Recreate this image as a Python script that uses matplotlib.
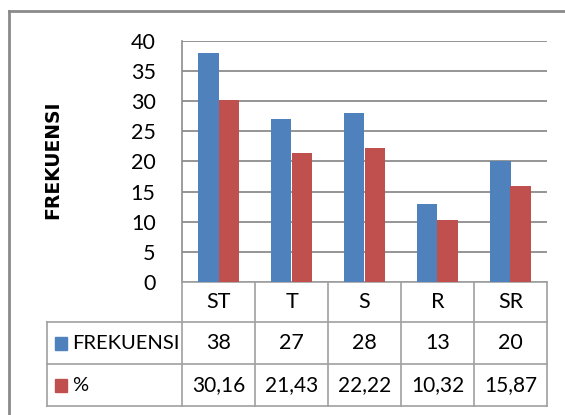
import matplotlib.pyplot as plt
from matplotlib.lines import Line2D
from matplotlib.patches import Rectangle
from matplotlib.transforms import blended_transform_factory
import numpy as np

# data dari grafik
kategori = ['ST', 'T', 'S', 'R', 'SR']
frekuensi = [38, 27, 28, 13, 20]
persen = [30.16, 21.43, 22.22, 10.32, 15.87]
persen_label = ['30,16', '21,43', '22,22', '10,32', '15,87']
nama_seri = ['FREKUENSI', '%']
y_ticks = [0, 5, 10, 15, 20, 25, 30, 35, 40]

biru = '#4F81BD'
merah = '#C0504D'
abu = '#A0A0A0'

plt.rcParams['font.family'] = ['Liberation Sans Narrow', 'Lato', 'DejaVu Sans']

W, H = 565, 415
fig = plt.figure(figsize=(W / 100, H / 100), dpi=100)

def fx(px):
    return px / W

def fy(py):
    return 1 - py / H

# bingkai luar (terpotong di kanan dan bawah)
fig.add_artist(Line2D([fx(9), fx(9)], [fy(11), fy(415)], color='#8a8a8a', lw=2))
fig.add_artist(Line2D([fx(9), fx(565)], [fy(11), fy(11)], color='#8a8a8a', lw=2))

ax = fig.add_axes([fx(182), fy(282), fx(547) - fx(182), fy(40.7) - fy(282)])
x = np.arange(len(kategori)) + 0.5
w = 0.28
ax.bar(x - w / 2, frekuensi, w, color=biru, zorder=3)
ax.bar(x + w / 2, persen, w, color=merah, zorder=3)
ax.set_xlim(0, len(kategori))
ax.set_ylim(0, 40)
ax.set_yticks(y_ticks)
ax.set_xticks([])
ax.yaxis.grid(True, color='#8c8c8c', lw=1.3, zorder=0)
ax.tick_params(axis='y', length=0, pad=19, labelsize=15.5)
for s in ['top', 'right']:
    ax.spines[s].set_visible(False)
ax.spines['left'].set_color('#8c8c8c')
ax.spines['bottom'].set_color(abu)
ax.spines['left'].set_linewidth(1.2)
ax.spines['bottom'].set_linewidth(1.2)

fig.text(fx(53), fy(160), 'FREKUENSI', rotation=90, ha='center', va='center',
         fontsize=13.5, fontweight='bold', family='DejaVu Sans')

# tabel data di bawah grafik
tr = blended_transform_factory(ax.transData, fig.transFigure)
baris_y = [282, 322, 364, 406]
for yy in baris_y[1:]:
    fig.add_artist(Line2D([fx(47), fx(547)], [fy(yy), fy(yy)], color=abu, lw=1.2))
fig.add_artist(Line2D([fx(47), fx(47)], [fy(322), fy(406)], color=abu, lw=1.2))
for i in range(len(kategori) + 1):
    fig.add_artist(Line2D([i, i], [fy(282), fy(406)], color=abu, lw=1.2, transform=tr))

for i, k in enumerate(kategori):
    fig.text(x[i], fy(302), k, transform=tr, ha='center', va='center', fontsize=15.5)
    fig.text(x[i], fy(343), str(frekuensi[i]), transform=tr, ha='center', va='center', fontsize=15.5)
    fig.text(x[i], fy(385), persen_label[i], transform=tr, ha='center', va='center', fontsize=15)

for nama, warna, yc in zip(nama_seri, [biru, merah], [343, 385]):
    fig.add_artist(Rectangle((fx(55), fy(yc + 6.5)), fx(12), 13 / H, color=warna))
    fig.text(fx(72), fy(yc), nama, ha='left', va='center', fontsize=14.5)

fig.savefig('out.png', dpi=100)
